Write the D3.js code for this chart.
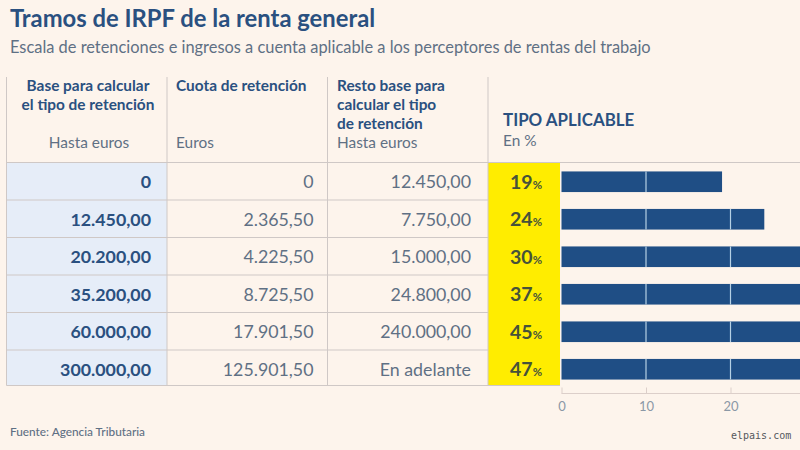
<!DOCTYPE html>
<html>
<head>
<meta charset="utf-8">
<script src="https://cdn.jsdelivr.net/npm/d3@7"></script>
<style>
    html, body { margin: 0; padding: 0; background: #fdf4ec; overflow: hidden; }
    text { font-family: Lato, "Open Sans", sans-serif; }
</style>
</head>
<body>
<div id="chart"></div>
<script>
// values
const baseLabels = ["0", "12.450,00", "20.200,00", "35.200,00", "60.000,00", "300.000,00"];
const cuotaLabels = ["0", "2.365,50", "4.225,50", "8.725,50", "17.901,50", "125.901,50"];
const restoLabels = ["12.450,00", "7.750,00", "15.000,00", "24.800,00", "240.000,00", "En adelante"];
const tipoValues = [19, 24, 30, 37, 45, 47];
const gridValues = [10, 20, 30, 40];
const tickValues = [0, 10, 20];

const width = 800, height = 450;
const navy = "#2a5080", grey = "#5f7084", line = "#cfc8c6";

const svg = d3.select("#chart").append("svg")
    .attr("width", width)
    .attr("height", height)
    .style("display", "block");

// title block
svg.append("text").attr("x", 10).attr("y", 27)
    .attr("font-size", 23.8).attr("font-weight", 700).attr("fill", navy)
    .text("Tramos de IRPF de la renta general");
svg.append("text").attr("x", 10).attr("y", 53)
    .attr("font-size", 16.4).attr("fill", grey)
    .text("Escala de retenciones e ingresos a cuenta aplicable a los perceptores de rentas del trabajo");

// scales
const rowY = d3.scaleBand().domain(d3.range(6)).range([162, 387]);
const barY = d3.scaleBand().domain(d3.range(6)).range([163, 388]).paddingInner(0.45).paddingOuter(0.225);
const x = d3.scaleLinear().domain([0, 50]).range([561.5, 984]);

// table backgrounds
svg.append("rect").attr("x", 6.5).attr("y", 162).attr("width", 160.5).attr("height", 223.5).attr("fill", "#e6edf8");
svg.append("rect").attr("x", 488).attr("y", 162).attr("width", 72).attr("height", 223.5).attr("fill", "#ffed00");

// row lines
svg.append("g").selectAll("line")
    .data(d3.range(6))
    .enter().append("line")
    .attr("x1", 6.5)
    .attr("x2", d => d === 0 ? width : 488)
    .attr("y1", d => rowY(d) + 0.5)
    .attr("y2", d => rowY(d) + 0.5)
    .attr("stroke", line);
svg.append("line").attr("x1", 6.5).attr("x2", 560).attr("y1", 385.5).attr("y2", 385.5).attr("stroke", line);

// column lines
svg.append("g").selectAll("line")
    .data([6.5, 167, 327.5, 488])
    .enter().append("line")
    .attr("x1", d => d).attr("x2", d => d)
    .attr("y1", 77).attr("y2", 385.5)
    .attr("stroke", line);

// column headers
const headers = [
    { x: 88, anchor: "middle", lines: ["Base para calcular", "el tipo de retención"] },
    { x: 176, anchor: "start", lines: ["Cuota de retención"] },
    { x: 337, anchor: "start", lines: ["Resto base para", "calcular el tipo", "de retención"] }
];
headers.forEach(h => {
    svg.append("g").selectAll("text")
        .data(h.lines)
        .enter().append("text")
        .attr("x", h.x)
        .attr("y", (d, i) => 91 + i * 19)
        .attr("text-anchor", h.anchor)
        .attr("font-size", 15.4).attr("font-weight", 700).attr("fill", navy)
        .text(d => d);
});
const subHeaders = [
    { x: 89, anchor: "middle", label: "Hasta euros" },
    { x: 176, anchor: "start", label: "Euros" },
    { x: 337, anchor: "start", label: "Hasta euros" }
];
svg.append("g").selectAll("text")
    .data(subHeaders)
    .enter().append("text")
    .attr("x", d => d.x).attr("y", 148)
    .attr("text-anchor", d => d.anchor)
    .attr("font-size", 15.4).attr("fill", grey)
    .text(d => d.label);

svg.append("text").attr("x", 503).attr("y", 126)
    .attr("font-size", 16.9).attr("font-weight", 700).attr("fill", navy)
    .text("TIPO APLICABLE");
svg.append("text").attr("x", 503).attr("y", 146)
    .attr("font-size", 15.4).attr("fill", grey)
    .text("En %");

// table columns
function addColumn(labels, xRight, weight, color) {
    svg.append("g").selectAll("text")
        .data(labels)
        .enter().append("text")
        .attr("x", xRight)
        .attr("y", (d, i) => barY(i) + barY.bandwidth() / 2 + 6.5)
        .attr("text-anchor", "end")
        .attr("font-size", 17.8).attr("font-weight", weight).attr("fill", color)
        .text(d => d);
}
addColumn(baseLabels, 151, 700, navy);
addColumn(cuotaLabels, 313.5, 400, grey);
addColumn(restoLabels, 471, 400, grey);

// percent labels on yellow
const tipo = svg.append("g").selectAll("text")
    .data(tipoValues)
    .enter().append("text")
    .attr("x", 510)
    .attr("y", (d, i) => barY(i) + barY.bandwidth() / 2 + 7)
    .attr("font-size", 19.5).attr("font-weight", 700).attr("fill", "#46523a");
tipo.append("tspan").text(d => d);
tipo.append("tspan").attr("font-size", 11.5).text("%");

// bars
svg.append("g").selectAll(".bar")
    .data(tipoValues)
    .enter().append("rect")
    .attr("class", "bar")
    .attr("x", x(0))
    .attr("y", (d, i) => barY(i))
    .attr("width", d => x(d) - x(0))
    .attr("height", barY.bandwidth())
    .attr("fill", "#1f4e85");

// light grid lines cut across the bars only
tipoValues.forEach((v, i) => {
    svg.append("g").selectAll("line")
        .data(gridValues.filter(g => g < v))
        .enter().append("line")
        .attr("x1", d => x(d)).attr("x2", d => x(d))
        .attr("y1", barY(i)).attr("y2", barY(i) + barY.bandwidth())
        .attr("stroke", "#b5d0e4").attr("stroke-width", 1.2);
});

// axis
const axis = svg.append("g")
    .attr("transform", "translate(0,393.5)")
    .call(d3.axisBottom(x).tickValues(tickValues).tickSize(-6).tickPadding(6));
axis.select(".domain").attr("stroke", "#dccfca").attr("d", `M${x(0)},0H${width}`);
axis.selectAll(".tick line").attr("stroke", "#dccfca");
axis.selectAll(".tick text")
    .attr("y", 8).attr("dy", "0.71em")
    .attr("font-size", 13).attr("fill", "#8b98a6")
    .style("font-family", "Lato");

// footer
svg.append("text").attr("x", 10).attr("y", 436)
    .attr("font-size", 11.8).attr("fill", grey).attr("font-weight", 500)
    .text("Fuente: Agencia Tributaria");
svg.append("text").attr("x", 731).attr("y", 439)
    .style("font-family", "'DejaVu Sans Mono', monospace")
    .attr("font-size", 10).attr("fill", "#55585c")
    .text("elpais.com");
</script>
</body>
</html>
